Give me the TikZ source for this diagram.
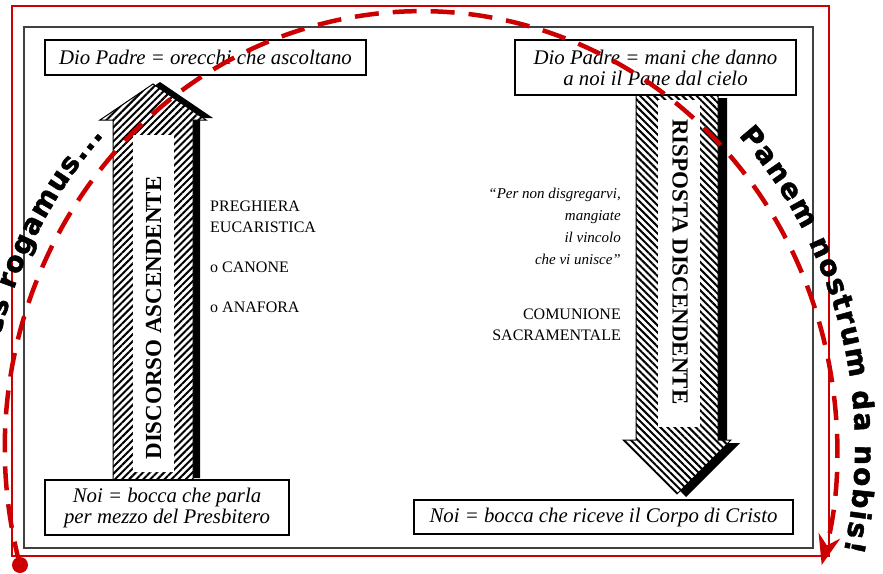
\documentclass[tikz,border=0pt]{standalone}
\usepackage{fontspec}
\setmainfont{Liberation Serif}
\newfontfamily\chantfam{DejaVu Sans}[BoldFeatures={FakeBold=1.6}]
\usetikzlibrary{patterns.meta,arrows.meta,decorations.text}
\definecolor{arcred}{RGB}{204,0,0}
\newcommand\chantfont{\chantfam\bfseries\fontsize{28}{28}\selectfont}

\begin{document}
\begin{tikzpicture}[x=1pt,y=-1pt,
  outer frame/.style={draw=arcred,line width=1.3pt},
  inner frame/.style={draw=black!75,line width=1.3pt},
  textbox/.style={draw=black,line width=1.3pt,fill=white,inner sep=0pt,align=center,
    font=\itshape\fontsize{20.8}{21}\selectfont},
  shadow/.style={fill=black},
  hatch up/.style={draw=black,line width=1pt,preaction={fill=white},
    pattern={Lines[angle=45,distance=5pt,line width=2pt]}},
  hatch down/.style={draw=black,line width=1pt,preaction={fill=white},
    pattern={Lines[angle=-45,distance=5pt,line width=2pt]}},
  arrow label/.style={font=\bfseries\fontsize{23}{23}\selectfont,inner sep=0pt},
  caps/.style={font=\fontsize{16}{21}\selectfont,inner sep=0pt,align=left},
  quote/.style={font=\itshape\fontsize{15}{22}\selectfont,inner sep=0pt,align=right},
  red arc/.style={draw=arcred,line width=4.5pt,dash pattern=on 24pt off 14pt,
    -{Stealth[length=30pt,width=22pt]}},
  chant/.style={decorate,decoration={text along path,text={|\chantfont|#1},text align={fit to path}}}]
\useasboundingbox (0,0) rectangle (883,573);

% frames
\draw[outer frame] (12,6) rectangle (829,556);
\draw[inner frame] (24,27) rectangle (813,548);

% ascending arrow
\fill[shadow,shift={(7,-2)}] (113,480) -- (113,120) -- (100,120) -- (153,84) -- (206,120) -- (193,120) -- (193,480) -- cycle;
\path[hatch up] (113,480) -- (113,120) -- (100,120) -- (153,84) -- (206,120) -- (193,120) -- (193,480) -- cycle;
\fill[white] (133,135) rectangle (174,472);
\node[arrow label,rotate=90] (ascent) at (153.5,318) {DISCORSO ASCENDENTE};

% descending arrow
\fill[shadow,shift={(9,3)}] (636,95) -- (636,440) -- (623,440) -- (677,494) -- (731,440) -- (718,440) -- (718,95) -- cycle;
\path[hatch down] (636,95) -- (636,440) -- (623,440) -- (677,494) -- (731,440) -- (718,440) -- (718,95) -- cycle;
\fill[white] (658,100) rectangle (700,427);
\node[arrow label,rotate=-90] (descent) at (680,262) {RISPOSTA DISCENDENTE};

% side texts
\node[caps,anchor=north west] (prayer) at (210,201) {PREGHIERA\\EUCARISTICA};
\node[caps,anchor=north west] (canon) at (210,262) {o CANONE};
\node[caps,anchor=north west] (anaphora) at (210,302) {o ANAFORA};
\node[quote,anchor=north east] (words) at (621,188) {``Per non disgregarvi,\\mangiate\\il vincolo\\che vi unisce''};
\node[caps,align=right,anchor=north east] (communion) at (621,309) {COMUNIONE\\SACRAMENTALE};

% boxes
\node[textbox,minimum width=321,minimum height=35] (ears) at (205.5,57.5) {Dio Padre = orecchi che ascoltano};
\node[textbox,minimum width=281,minimum height=55] (hands) at (655.5,67.5) {Dio Padre = mani che danno\\a noi il Pane dal cielo};
\node[textbox,minimum width=244,minimum height=55] (mouth) at (167,507.5) {Noi = bocca che parla\\per mezzo del Presbitero};
\node[textbox,minimum width=379,minimum height=34] (body) at (603.5,517) {Noi = bocca che riceve il Corpo di Cristo};

% red arc and chants
\node[circle,fill=arcred,minimum size=16,inner sep=0pt] (origin) at (20,565) {};
\draw[red arc] (origin.center) arc[start angle=164.5,end angle=375.5,x radius=416,y radius=437];
\path[chant={supplices rogamus...}] ([shift={(421,448)}]179:434 and 458) arc[start angle=179,end angle=223,x radius=434,y radius=458];
\path[chant={Panem nostrum da nobis!}] ([shift={(421,448)}]317:434 and 458) arc[start angle=317,end angle=373,x radius=434,y radius=458];
\end{tikzpicture}
\end{document}
